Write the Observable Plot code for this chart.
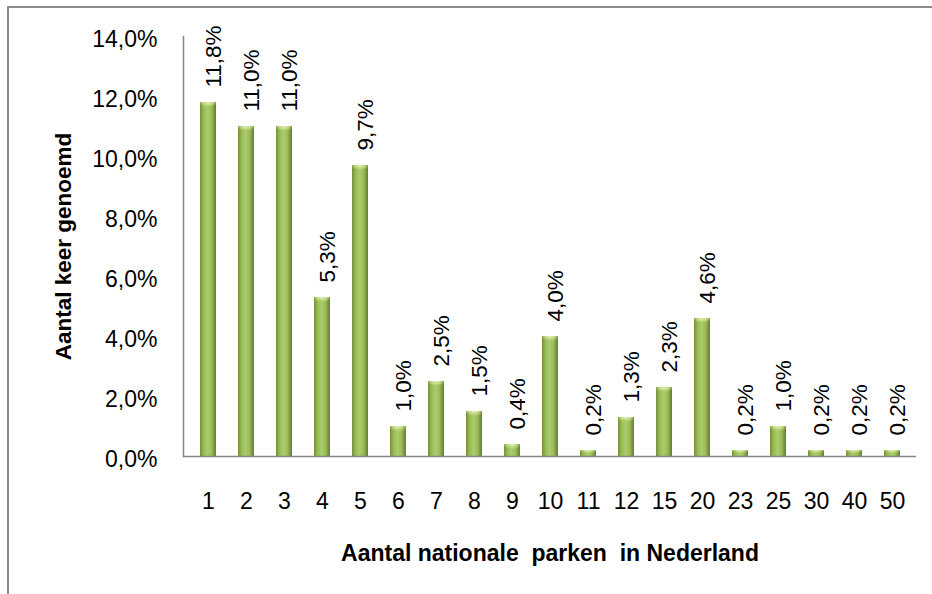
<!DOCTYPE html>
<html><head><meta charset="utf-8">
<script src="https://cdn.jsdelivr.net/npm/d3@7"></script>
<script src="https://cdn.jsdelivr.net/npm/@observablehq/plot@0.6"></script>
<style>
body{margin:0;background:#fff;}
#wrap{position:relative;width:932px;height:594px;overflow:hidden;}
#frame{position:absolute;left:7px;top:6px;width:1000px;height:1000px;border-top:2px solid #8a8a8a;border-left:2px solid #8a8a8a;pointer-events:none;}
#chart{position:absolute;left:0;top:0;}
svg text{white-space:pre;}
</style></head><body>
<div id="wrap"><div id="chart"></div><div id="frame"></div></div>
<script>
const categories = ["1","2","3","4","5","6","7","8","9","10","11","12","15","20","23","25","30","40","50"];
const values = [11.8, 11.0, 11.0, 5.3, 9.7, 1.0, 2.5, 1.5, 0.4, 4.0, 0.2, 1.3, 2.3, 4.6, 0.2, 1.0, 0.2, 0.2, 0.2];
const valueLabels = ["11,8%","11,0%","11,0%","5,3%","9,7%","1,0%","2,5%","1,5%","0,4%","4,0%","0,2%","1,3%","2,3%","4,6%","0,2%","1,0%","0,2%","0,2%","0,2%"];
const yTicks = [0, 2, 4, 6, 8, 10, 12, 14];
const yTickLabels = ["0,0%","2,0%","4,0%","6,0%","8,0%","10,0%","12,0%","14,0%"];
const yTitle = "Aantal keer genoemd";
const xTitle = "Aantal nationale  parken  in Nederland";

const data = categories.map((c, i) => ({cat: c, value: values[i], label: valueLabels[i]}));

function gradientDefs() {
  const defs = d3.create("svg:defs");
  const g = defs.append("linearGradient").attr("id", "barGrad").attr("x1", "0").attr("x2", "1").attr("y1", "0").attr("y2", "0");
  [["0%", "#728f36"], ["20%", "#96b755"], ["45%", "#abcc6a"], ["70%", "#9fbf5c"], ["100%", "#637e2c"]]
    .forEach(([o, c]) => g.append("stop").attr("offset", o).attr("stop-color", c));
  const cap = defs.append("radialGradient").attr("id", "capGrad").attr("cx", "0.5").attr("cy", "0").attr("r", "0.6");
  [["0%", "#e6f2c0", 1], ["60%", "#c9df8e", 0.7], ["100%", "#a9ca68", 0]]
    .forEach(([o, c, op]) => cap.append("stop").attr("offset", o).attr("stop-color", c).attr("stop-opacity", op));
  const f = defs.append("filter").attr("id", "barShadow").attr("x", "-30%").attr("y", "-10%").attr("width", "180%").attr("height", "130%");
  f.append("feDropShadow").attr("dx", 2).attr("dy", 1).attr("stdDeviation", 1.5).attr("flood-color", "#000").attr("flood-opacity", 0.3);
  return defs.node();
}

const font = "'Liberation Sans', Arial, sans-serif";
const fs = 23;

const chart = Plot.plot({
  width: 932, height: 594,
  marginLeft: 183, marginRight: 16, marginTop: 36, marginBottom: 138,
  style: {fontFamily: font, fontSize: fs + "px", color: "#000", background: "transparent", overflow: "visible"},
  x: {domain: categories, paddingInner: 0.58, paddingOuter: 0.29, label: null},
  y: {domain: [0, 14], label: null},
  marks: [
    gradientDefs,
    Plot.barY(data, {x: "cat", y: "value", fill: "url(#barGrad)", style: {filter: "url(#barShadow)"}}),
    Plot.barY(data, {x: "cat", y1: d => Math.max(0, d.value - 0.3), y2: "value", fill: "url(#capGrad)"}),
    Plot.frame({anchor: "left", stroke: "#868686", strokeWidth: 1.5}),
    Plot.ruleY([0], {stroke: "#868686", strokeWidth: 1.5}),
    Plot.axisY({ticks: yTicks, tickFormat: d => yTickLabels[yTicks.indexOf(d)], tickSize: 0, tickPadding: 26, dy: 3, fontSize: fs, label: null, fill: "#000"}),
    Plot.axisX({tickSize: 0, tickPadding: 36, fontSize: fs, label: null, fill: "#000"}),
    Plot.text(data, {x: "cat", y: "value", text: "label", rotate: -90, textAnchor: "start", dy: -15, dx: 5, fontSize: 22.5, fill: "#000"}),
    Plot.text([yTitle], {frameAnchor: "left", dx: -120, rotate: -90, textAnchor: "middle", lineAnchor: "middle", fontWeight: "bold", fontSize: 22.5, fill: "#000"}),
    Plot.text([xTitle], {frameAnchor: "bottom", dy: 97, textAnchor: "middle", lineAnchor: "middle", fontWeight: "bold", fontSize: 23, fill: "#000"})
  ]
});
document.getElementById("chart").appendChild(chart);
</script>
</body></html>
